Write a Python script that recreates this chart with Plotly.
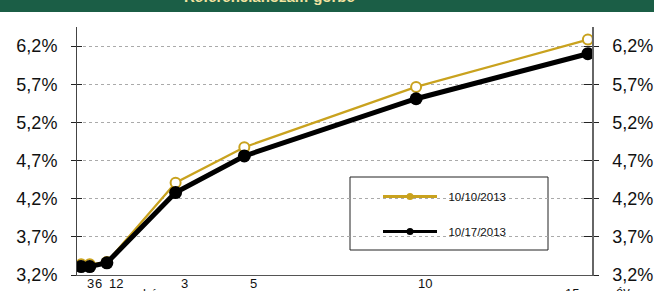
import plotly.graph_objects as go

# maturities in years (3, 6, 12 months; 3, 5, 10, 15 years)
maturities = [0.25, 0.5, 1, 3, 5, 10, 15]
yield_1010 = [3.34, 3.34, 3.37, 4.41, 4.875, 5.665, 6.285]
yield_1017 = [3.31, 3.31, 3.36, 4.28, 4.76, 5.51, 6.10]
series_names = ["10/10/2013", "10/17/2013"]

month_vals = [0.25, 0.5, 1]
month_labels = ["3", "6", "12"]
year_vals = [3, 5, 10]
year_labels = ["3", "5", "10"]
y_ticks = [3.2, 3.7, 4.2, 4.7, 5.2, 5.7, 6.2]
y_ticklabels = ["3,2%", "3,7%", "4,2%", "4,7%", "5,2%", "5,7%", "6,2%"]
title_text = "Referenciahozam-görbe"

GOLD = "#C9A21E"
BLACK = "#000000"
GREEN = "#1B5E46"
FONT = "Arial, Liberation Sans, sans-serif"
YR = [3.2, 6.45]

fig = go.Figure()
fig.add_trace(go.Scatter(x=maturities, y=yield_1010, mode="lines+markers",
                         line=dict(color=GOLD, width=2.2),
                         marker=dict(symbol="circle", size=10, color="white",
                                     line=dict(color=GOLD, width=2)),
                         showlegend=False, hoverinfo="skip"))
fig.add_trace(go.Scatter(x=maturities, y=yield_1017, mode="lines+markers",
                         line=dict(color=BLACK, width=5),
                         marker=dict(symbol="circle", size=13, color=BLACK),
                         showlegend=False, hoverinfo="skip"))
# legend entries
fig.add_trace(go.Scatter(x=[None], y=[None], mode="lines+markers", name="  " + series_names[0],
                         legendgroup="a", line=dict(color=GOLD, width=3),
                         marker=dict(size=7, color=GOLD)))
fig.add_trace(go.Scatter(x=[None], y=[None], mode="lines+markers", name="  " + series_names[1],
                         legendgroup="b", line=dict(color=BLACK, width=3),
                         marker=dict(size=7, color=BLACK)))
# dummy traces for extra axes (crossing ticks + right axis)
for ya in ["y2", "y3", "y4"]:
    fig.add_trace(go.Scatter(x=[None], y=[None], yaxis=ya, showlegend=False, hoverinfo="skip"))

axis_font = dict(family=FONT, size=18, color="#111")
common_y = dict(range=YR, tickvals=y_ticks, ticktext=y_ticklabels, zeroline=False,
                automargin=False)

fig.update_layout(
    width=654, height=291,
    margin=dict(l=77, r=62, t=27, b=16, autoexpand=False),
    paper_bgcolor="white", plot_bgcolor="white",
    font=dict(family=FONT, color="#111"),
    xaxis=dict(range=[0.13, 15.12], showticklabels=False, showgrid=False, zeroline=False,
               showline=True, linecolor="#555", linewidth=1, ticks="", automargin=False),
    yaxis=dict(**common_y, side="left", showline=True, linecolor="#444", linewidth=1,
               ticks="outside", ticklen=5, tickcolor="#222", tickfont=axis_font,
               ticklabelstandoff=10,
               showgrid=True, gridcolor="#aaa", griddash="dot", gridwidth=1),
    yaxis2=dict(**common_y, overlaying="y", side="right", anchor="x", showline=True,
                linecolor="#666", linewidth=1.5, ticks="outside", ticklen=5, tickcolor="#222",
                tickfont=axis_font, ticklabelstandoff=10, showgrid=False),
    yaxis3=dict(**common_y, overlaying="y", side="left", anchor="x", showline=False,
                ticks="inside", ticklen=5, tickcolor="#222", showticklabels=False, showgrid=False),
    yaxis4=dict(**common_y, overlaying="y", side="right", anchor="x", showline=False,
                ticks="inside", ticklen=8, tickcolor="#222", showticklabels=False, showgrid=False),
    legend=dict(x=(378 - 77) / 515, y=(275 - 182) / 248, xanchor="left", yanchor="top",
                bgcolor="rgba(0,0,0,0)", borderwidth=0, tracegroupgap=16,
                itemwidth=54, font=dict(family=FONT, size=11.5, color="#111")),
)

# legend box
fig.add_shape(type="rect", xref="paper", yref="paper",
              x0=(350 - 77) / 515, x1=(548 - 77) / 515,
              y0=(275 - 250) / 248, y1=(275 - 177) / 248,
              line=dict(color="#222", width=1), fillcolor="white", layer="between")

# title bar
fig.add_shape(type="rect", xref="paper", yref="paper",
              x0=-77 / 515, x1=(654 - 77) / 515,
              y0=(275 - 12) / 248, y1=(275 + 10) / 248,
              line=dict(width=0), fillcolor=GREEN, layer="above")
fig.add_annotation(text="<b>" + title_text + "</b>", xref="paper", yref="paper",
                   x=(269 - 77) / 515, y=(275 - 0) / 248, yshift=-7,
                   xanchor="center", yanchor="bottom", showarrow=False,
                   font=dict(family=FONT, size=15, color="#F2E3A0"))

lab_font = dict(family=FONT, size=13, color="#111")
for v, t in zip(month_vals + year_vals, month_labels + year_labels):
    fig.add_annotation(text=t, x=v, xref="x", y=0, yref="paper", yshift=-8.5,
                       xshift=9, xanchor="center", yanchor="middle",
                       showarrow=False, font=lab_font)
fig.add_annotation(text="15", x=15, xref="x", y=0, yref="paper", yshift=-18,
                   xshift=-16, xanchor="center", yanchor="middle",
                   showarrow=False, font=lab_font)
fig.add_annotation(text="hó", x=1, xref="x", y=0, yref="paper", yshift=-18,
                   xshift=43, xanchor="center", yanchor="middle",
                   showarrow=False, font=lab_font)
fig.add_annotation(text="év", x=1, xref="paper", y=0, yref="paper", yshift=-16,
                   xshift=31, xanchor="center", yanchor="middle",
                   showarrow=False, font=lab_font)

fig.write_html("out.html",
               config={"displayModeBar": False},
               post_script="document.body.style.margin='0';"
                           "document.body.style.overflow='hidden';")
